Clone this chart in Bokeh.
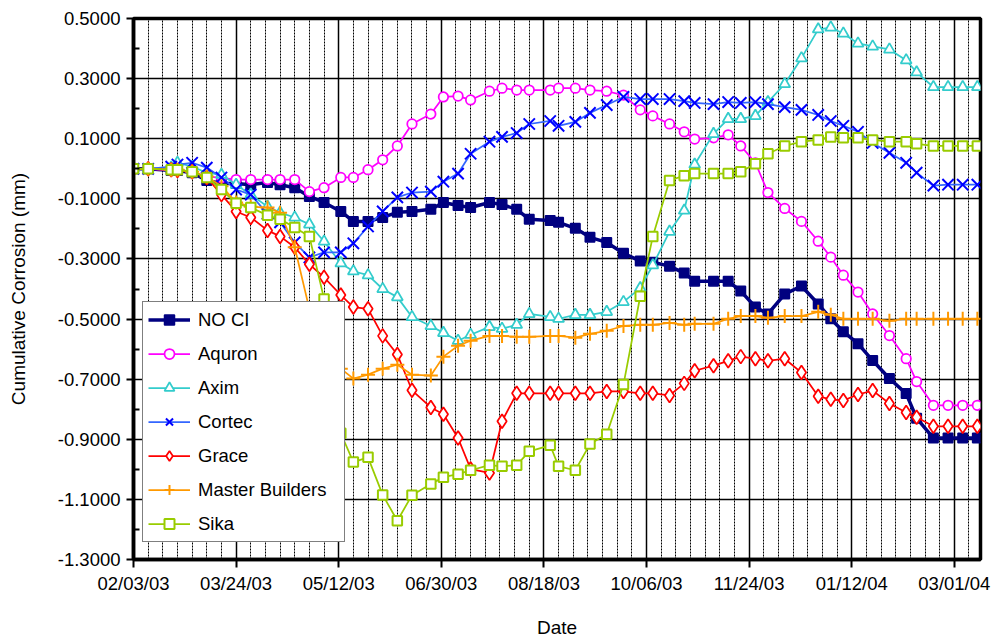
import datetime as dt
from bokeh.plotting import figure
from bokeh.models import (FixedTicker, NumeralTickFormatter, DatetimeTickFormatter,
                          Legend, LegendItem, Range1d)
from bokeh.embed import file_html
from bokeh.resources import INLINE

# ---------------- data ----------------
START_DATE = dt.datetime(2003, 2, 3)
# measurement dates, as days after 02/03/03
day_offsets = [0, 7, 18, 21, 28, 35, 42, 49, 56, 64,
               70, 77, 84, 91, 99, 105, 112, 119, 126, 133,
               142, 148, 155, 161, 170, 176, 183, 189, 199, 203,
               211, 218, 226, 234, 242, 248, 256, 263, 268, 277,
               284, 290, 297, 303, 311, 319, 327, 333, 339, 346,
               353, 361, 369, 374, 382, 389, 396, 403]

no_ci = [0, 0, -0.006, -0.006, -0.013, -0.039, -0.049, -0.049, -0.053, -0.046,
         -0.053, -0.063, -0.092, -0.112, -0.142, -0.175, -0.175, -0.162, -0.145, -0.142,
         -0.135, -0.112, -0.122, -0.129, -0.112, -0.119, -0.135, -0.168, -0.172, -0.178,
         -0.198, -0.228, -0.245, -0.281, -0.307, -0.311, -0.324, -0.347, -0.374, -0.374,
         -0.374, -0.407, -0.460, -0.483, -0.417, -0.390, -0.450, -0.499, -0.542, -0.582,
         -0.638, -0.698, -0.748, -0.830, -0.896, -0.896, -0.896, -0.896]

aquron = [0, 0, -0.005, -0.005, -0.010, -0.025, -0.030, -0.036, -0.036, -0.036,
          -0.036, -0.036, -0.076, -0.063, -0.029, -0.029, -0.003, 0.030, 0.076, 0.149,
          0.182, 0.239, 0.242, 0.229, 0.258, 0.268, 0.262, 0.262, 0.262, 0.268,
          0.268, 0.262, 0.258, 0.245, 0.196, 0.176, 0.149, 0.123, 0.099, 0.103,
          0.113, 0.076, 0.020, -0.079, -0.132, -0.175, -0.241, -0.294, -0.354, -0.410,
          -0.483, -0.555, -0.632, -0.708, -0.787, -0.787, -0.787, -0.787]

axim = [0, 0, 0.004, 0.020, 0.007, -0.013, -0.020, -0.053, -0.086, -0.126,
        -0.146, -0.162, -0.185, -0.242, -0.314, -0.341, -0.354, -0.400, -0.427, -0.493,
        -0.523, -0.546, -0.572, -0.552, -0.526, -0.532, -0.519, -0.483, -0.493, -0.499,
        -0.486, -0.486, -0.476, -0.443, -0.397, -0.321, -0.209, -0.139, 0.014, 0.116,
        0.166, 0.166, 0.176, 0.222, 0.282, 0.368, 0.464, 0.470, 0.450, 0.417,
        0.407, 0.397, 0.361, 0.321, 0.272, 0.272, 0.272, 0.272]

cortec = [0, 0, 0.007, 0.014, 0.020, 0.004, -0.029, -0.069, -0.086, -0.150,
          -0.178, -0.245, -0.295, -0.278, -0.278, -0.248, -0.192, -0.142, -0.095, -0.079,
          -0.076, -0.043, -0.016, 0.050, 0.090, 0.106, 0.119, 0.149, 0.159, 0.143,
          0.156, 0.186, 0.212, 0.239, 0.232, 0.232, 0.232, 0.225, 0.219, 0.215,
          0.222, 0.219, 0.222, 0.215, 0.205, 0.196, 0.179, 0.159, 0.143, 0.123,
          0.086, 0.053, 0.020, -0.013, -0.056, -0.053, -0.053, -0.053]

grace = [0, 0, -0.003, -0.006, -0.010, -0.029, -0.086, -0.142, -0.162, -0.205,
         -0.225, -0.261, -0.318, -0.361, -0.420, -0.460, -0.466, -0.556, -0.618, -0.737,
         -0.794, -0.817, -0.896, -0.999, -1.012, -0.840, -0.747, -0.747, -0.747, -0.747,
         -0.747, -0.747, -0.741, -0.741, -0.747, -0.747, -0.754, -0.714, -0.672, -0.655,
         -0.639, -0.625, -0.632, -0.639, -0.632, -0.678, -0.757, -0.767, -0.771, -0.751,
         -0.738, -0.781, -0.811, -0.827, -0.857, -0.857, -0.857, -0.857]

master_builders = [0, 0, -0.003, -0.003, -0.010, -0.026, -0.058, -0.112, -0.126, -0.129,
                   -0.146, -0.261, -0.467, -0.632, -0.665, -0.698, -0.685, -0.665, -0.652, -0.685,
                   -0.688, -0.625, -0.589, -0.572, -0.556, -0.556, -0.559, -0.559, -0.556, -0.556,
                   -0.562, -0.549, -0.539, -0.523, -0.519, -0.519, -0.513, -0.519, -0.516, -0.516,
                   -0.499, -0.490, -0.490, -0.496, -0.490, -0.490, -0.476, -0.486, -0.499, -0.499,
                   -0.499, -0.506, -0.499, -0.499, -0.499, -0.499, -0.499, -0.499]

sika = [0, 0, -0.003, -0.003, -0.010, -0.029, -0.069, -0.115, -0.129, -0.155,
        -0.168, -0.195, -0.225, -0.433, -0.880, -0.976, -0.960, -1.085, -1.171, -1.086,
        -1.049, -1.026, -1.016, -1.003, -0.986, -0.990, -0.986, -0.940, -0.920, -0.990,
        -1.003, -0.916, -0.883, -0.718, -0.424, -0.225, -0.039, -0.023, -0.016, -0.016,
        -0.016, -0.010, 0.017, 0.050, 0.076, 0.090, 0.096, 0.106, 0.103, 0.103,
        0.096, 0.090, 0.090, 0.083, 0.076, 0.076, 0.076, 0.076]

series_names = ["NO CI", "Aquron", "Axim", "Cortec", "Grace", "Master Builders", "Sika"]
series_values = [no_ci, aquron, axim, cortec, grace, master_builders, sika]

x_tick_step_days = 49           # labelled dates: 02/03/03, 03/24/03, ...
x_minor_step_days = 7           # weekly gridlines
x_axis_end_days = 404.5
y_min, y_max = -1.3, 0.5
y_major_ticks = [0.5, 0.3, 0.1, -0.1, -0.3, -0.5, -0.7, -0.9, -1.1, -1.3]
y_minor_ticks = [0.4, 0.2, 0.0, -0.2, -0.4, -0.6, -0.8, -1.0, -1.2]

# ---------------- styles ----------------
FONT = "Liberation Sans"
styles = [
    dict(line="#000080", lw=3.5, marker="square", size=9.5, fill="#000080", mline="#000080", mlw=1.5),
    dict(line="#FF00FF", lw=1.75, marker="circle", size=9.5, fill="white", mline="#FF00FF", mlw=1.75),
    dict(line="#33CCCC", lw=1.75, marker="triangle", size=11, fill="white", mline="#33CCCC", mlw=1.75),
    dict(line="#3366FF", lw=1.75, marker="x", size=16, fill="white", mline="#0000FF", mlw=2),
    dict(line="#FF0000", lw=1.75, marker="diamond", size=14, fill="white", mline="#FF0000", mlw=1.75),
    dict(line="#FF9900", lw=1.75, marker="cross", size=14, fill="white", mline="#FF9900", mlw=2),
    dict(line="#99CC00", lw=1.75, marker="square", size=9.5, fill="white", mline="#99CC00", mlw=2),
]

EPOCH = dt.datetime(1970, 1, 1)


def to_ms(d):
    return (d - EPOCH).total_seconds() * 1000.0


dates = [START_DATE + dt.timedelta(days=d) for d in day_offsets]
x_start = to_ms(START_DATE)
x_end = to_ms(START_DATE + dt.timedelta(days=x_axis_end_days))
major_x = [to_ms(START_DATE + dt.timedelta(days=d))
           for d in range(0, int(x_axis_end_days) + 1, x_tick_step_days)]
minor_x = [to_ms(START_DATE + dt.timedelta(days=d))
           for d in range(0, int(x_axis_end_days) + 1, x_minor_step_days)]

p = figure(width=996, height=640, x_axis_type="datetime",
           output_backend="svg", toolbar_location=None,
           x_range=Range1d(x_start, x_end), y_range=Range1d(y_min, y_max),
           min_border_left=133, min_border_right=16, min_border_top=18, min_border_bottom=78,
           background_fill_color="white", border_fill_color="white")

p.outline_line_color = "black"
p.outline_line_width = 3.5

# x axis
xa = p.xaxis[0]
xa.ticker = FixedTicker(ticks=major_x, minor_ticks=minor_x)
fmt = "%m/%d/%y"
xa.formatter = DatetimeTickFormatter(milliseconds=fmt, seconds=fmt, minsec=fmt, minutes=fmt,
                                     hourmin=fmt, hours=fmt, days=fmt, months=fmt, years=fmt)
xa.axis_label = "Date"
xa.axis_line_width = 3.5
xa.axis_line_color = "black"
xa.major_tick_line_width = 2
xa.major_tick_line_color = "black"
xa.major_tick_out = 8
xa.major_tick_in = 0
xa.minor_tick_line_color = None
xa.major_label_standoff = 5
xa.axis_label_standoff = 20

# y axis
ya = p.yaxis[0]
ya.ticker = FixedTicker(ticks=y_major_ticks, minor_ticks=y_minor_ticks)
ya.formatter = NumeralTickFormatter(format="0.0000")
ya.axis_label = "Cumulative Corrosion (mm)"
ya.axis_line_width = 3.5
ya.axis_line_color = "black"
ya.major_tick_line_width = 2
ya.major_tick_line_color = "black"
ya.major_tick_out = 7
ya.major_tick_in = 0
ya.minor_tick_line_width = 2
ya.minor_tick_line_color = "black"
ya.minor_tick_in = 6
ya.minor_tick_out = 0
ya.major_label_standoff = 6
ya.axis_label_standoff = 26

for ax in (xa, ya):
    ax.major_label_text_font = FONT
    ax.major_label_text_font_size = "18.5px"
    ax.major_label_text_color = "black"
    ax.axis_label_text_font = FONT
    ax.axis_label_text_font_size = "19px"
    ax.axis_label_text_font_style = "normal"
    ax.axis_label_text_color = "black"

# grids
p.xgrid.grid_line_color = "black"
p.xgrid.grid_line_width = 1.5
p.xgrid.minor_grid_line_color = "black"
p.xgrid.minor_grid_line_width = 1
p.xgrid.minor_grid_line_dash = "2 1"
p.ygrid.grid_line_color = "black"
p.ygrid.grid_line_width = 1.5
p.ygrid.minor_grid_line_color = None

# series
items = []
for name, vals, st in zip(series_names, series_values, styles):
    lr = p.line(dates, vals, line_color=st["line"], line_width=st["lw"])
    sr = p.scatter(dates, vals, marker=st["marker"], size=st["size"],
                   fill_color=st["fill"], line_color=st["mline"], line_width=st["mlw"])
    items.append(LegendItem(label=name, renderers=[lr, sr]))

legend = Legend(items=items, location=(9, 17), padding=5, spacing=9,
                glyph_height=25, glyph_width=42, label_height=25, label_standoff=8,
                label_width=141, border_line_color="black", border_line_width=1.5,
                background_fill_color="white", background_fill_alpha=1.0,
                label_text_font=FONT, label_text_font_size="18.5px", label_text_color="black")
p.add_layout(legend)

open("out.html", "w").write(file_html(p, INLINE))
